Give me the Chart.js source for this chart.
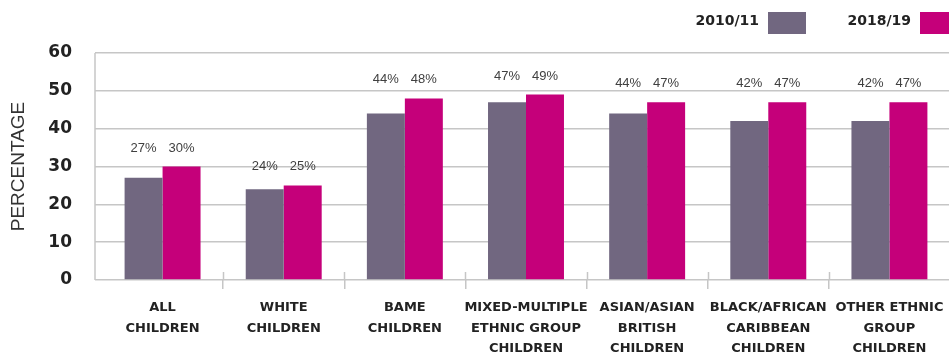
<!DOCTYPE html>
<html>
<head>
<meta charset="utf-8">
<script src="https://cdn.jsdelivr.net/npm/chart.js@4/dist/chart.umd.min.js"></script>
<style>
  html, body { margin: 0; padding: 0; background: #fff; overflow: hidden; }
  #wrap { width: 965px; height: 354px; }
</style>
</head>
<body>
<div id="wrap"><canvas id="chart" width="965" height="354"></canvas></div>
<script>
// groups on the x axis (one array per label, one entry per line)
const groups = [
    ['ALL', 'CHILDREN'],
    ['WHITE', 'CHILDREN'],
    ['BAME', 'CHILDREN'],
    ['MIXED-MULTIPLE', 'ETHNIC GROUP', 'CHILDREN'],
    ['ASIAN/ASIAN', 'BRITISH', 'CHILDREN'],
    ['BLACK/AFRICAN', 'CARIBBEAN', 'CHILDREN'],
    ['OTHER ETHNIC', 'GROUP', 'CHILDREN']
];
const years = ['2010/11', '2018/19'];
const pct2010 = [27, 24, 44, 47, 44, 42, 42];
const pct2018 = [30, 25, 48, 49, 47, 47, 47];
const yTicks = [0, 10, 20, 30, 40, 50, 60];

const gridColor = '#c6c6c6';
const heavyFont = '"DejaVu Sans", sans-serif';

// left axis line, the part of the category ticks above the axis,
// the % labels over each pair of bars and the legend (text, then swatch)
const extras = {
    id: 'extras',
    afterDatasetsDraw(chart) {
        const ctx = chart.ctx;
        const area = chart.chartArea;
        const x = chart.scales.x;
        const y = chart.scales.y;
        ctx.save();
        ctx.strokeStyle = gridColor;
        ctx.lineWidth = 1.5;
        ctx.beginPath();
        ctx.moveTo(area.left - 7, area.top);
        ctx.lineTo(area.left - 7, area.bottom);
        const half = (x.getPixelForTick(1) - x.getPixelForTick(0)) / 2;
        for (let i = 1; i < groups.length; i++) {
            const gx = Math.round(x.getPixelForTick(i) - half) + 0.5;
            ctx.moveTo(gx, area.bottom - 8);
            ctx.lineTo(gx, area.bottom);
        }
        ctx.stroke();

        ctx.fillStyle = '#404040';
        ctx.font = '13px "Liberation Sans", Arial, sans-serif';
        ctx.textAlign = 'center';
        ctx.textBaseline = 'bottom';
        chart.data.datasets.forEach((ds, di) => {
            chart.getDatasetMeta(di).data.forEach((bar, i) => {
                const top = Math.max(pct2010[i], pct2018[i]);
                ctx.fillText(ds.data[i] + '%', bar.x, y.getPixelForValue(top) - 12);
            });
        });

        // legend, laid out from the right edge
        const swatchW = 38, swatchH = 22, pitch = 152;
        let right = area.right + 8 - (chart.data.datasets.length - 1) * pitch;
        ctx.font = 'bold 14px ' + heavyFont;
        ctx.textAlign = 'right';
        ctx.textBaseline = 'middle';
        chart.data.datasets.forEach((ds) => {
            ctx.fillStyle = ds.backgroundColor;
            ctx.fillRect(right - swatchW, 12, swatchW, swatchH);
            ctx.fillStyle = '#222';
            ctx.fillText(ds.label, right - swatchW - 9, 21);
            right += pitch;
        });
        ctx.restore();
    }
};

new Chart(document.getElementById('chart'), {
    type: 'bar',
    data: {
        labels: groups,
        datasets: [
            { label: years[0], data: pct2010, backgroundColor: '#716780' },
            { label: years[1], data: pct2018, backgroundColor: '#c5007a' }
        ]
    },
    options: {
        responsive: false,
        animation: false,
        devicePixelRatio: 1,
        layout: { padding: { top: 53, right: 15, left: 0, bottom: 0 } },
        datasets: {
            bar: { barPercentage: 1, categoryPercentage: 0.627 }
        },
        plugins: {
            tooltip: { enabled: false },
            legend: { display: false }
        },
        scales: {
            x: {
                afterFit(scale) { scale.height = 74; },
                grid: {
                    drawOnChartArea: false,
                    tickLength: 9,
                    lineWidth: 1.5,
                    color: (c) => (c.index === 0 ? 'rgba(0,0,0,0)' : gridColor)
                },
                border: { display: false },
                ticks: {
                    autoSkip: false,
                    maxRotation: 0,
                    padding: 8,
                    color: '#222',
                    font: { family: heavyFont, size: 13, weight: 'bold', lineHeight: 1.6 }
                }
            },
            y: {
                min: 0,
                max: 60,
                afterFit(scale) { scale.width = 102; },
                afterBuildTicks(scale) { scale.ticks = yTicks.map(v => ({ value: v })); },
                grid: { color: gridColor, lineWidth: 1.5, tickLength: 7 },
                border: { display: false },
                ticks: {
                    padding: 23,
                    color: '#222',
                    font: { family: heavyFont, size: 17, weight: 'bold' }
                },
                title: {
                    display: true,
                    text: 'PERCENTAGE',
                    color: '#333',
                    padding: { top: 7, bottom: 0 },
                    font: { family: '"Liberation Sans", Arial, sans-serif', size: 19, weight: 'normal' }
                }
            }
        }
    },
    plugins: [extras]
});
</script>
</body>
</html>
